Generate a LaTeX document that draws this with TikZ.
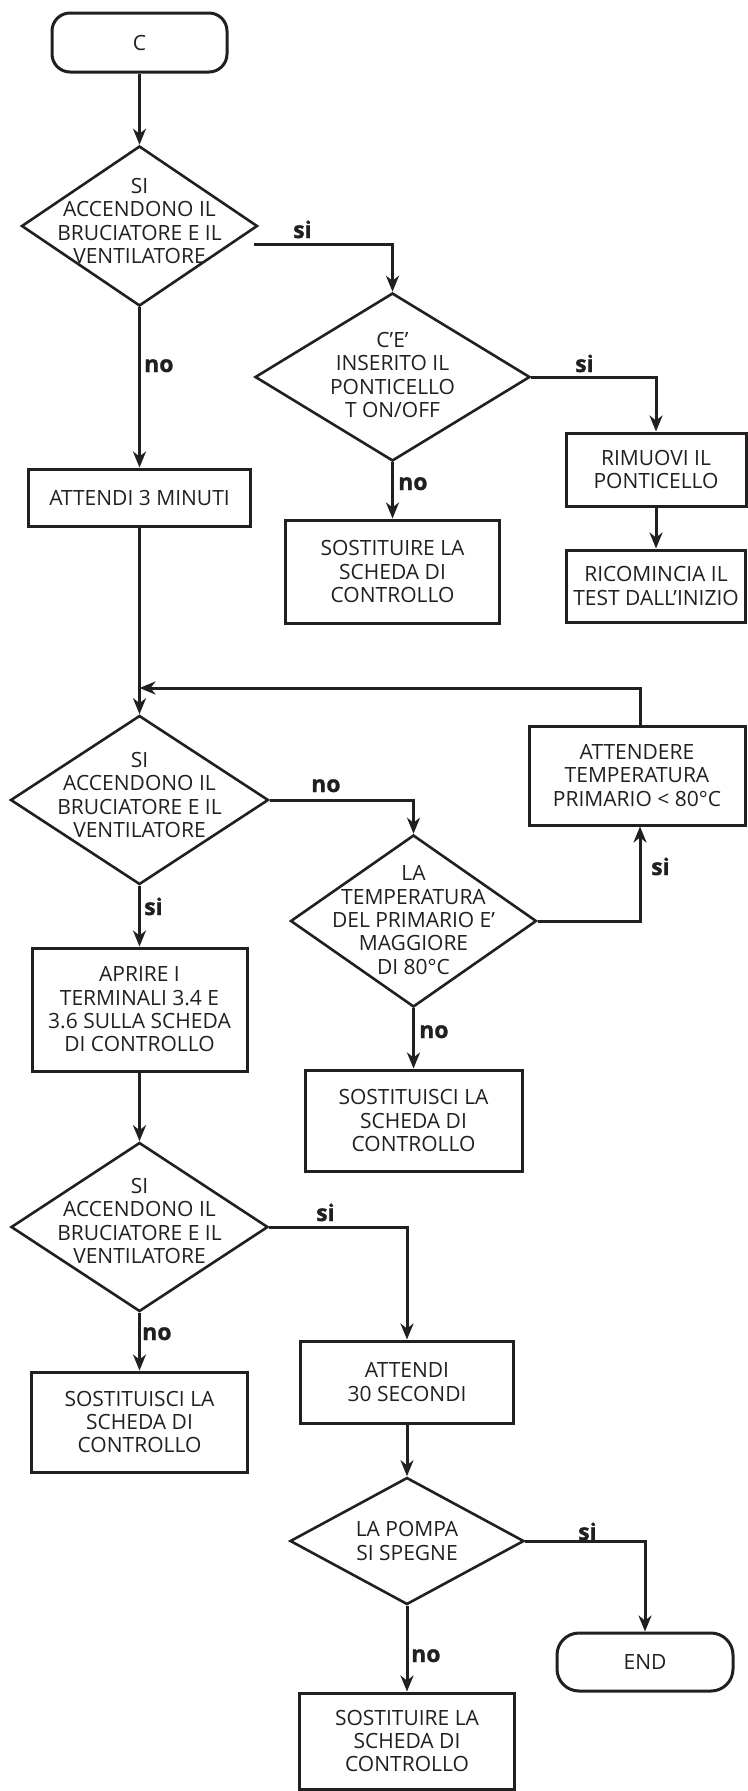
\documentclass[tikz,border=0pt]{standalone}
\usepackage{fontspec}
\setmainfont{Open Sans}
\newfontfamily\labfont{Open Sans}[BoldFeatures={FakeBold=1.2}]
\usetikzlibrary{shapes.geometric,arrows.meta,calc}
\definecolor{ink}{HTML}{231F20}

\begin{document}
\begin{tikzpicture}[x=1pt,y=-1pt,
  every node/.style={text=ink, font=\fontsize{21}{23.3}\selectfont},
  box/.style={draw=ink, line width=3pt, rectangle, align=center, inner sep=0pt},
  term/.style={box, rounded corners=18pt},
  dec/.style={draw=ink, line width=2.6pt, diamond, inner sep=0pt},
  txt/.style={align=center, inner sep=0pt},
  lab/.style={font=\labfont\fontsize{23}{24}\bfseries\selectfont, inner sep=0pt, anchor=base west},
  arr/.style={draw=ink, line width=3pt, -{Stealth[length=16pt,width=13pt,inset=5pt]}},
]
\useasboundingbox (0,0) rectangle (747,1791);

% ---- top section ----
\node[term, minimum width=175pt, minimum height=59pt] (start) at (139.5,42.5) {C};

\node[dec, minimum width=236pt, minimum height=160pt] (d1) at (139.5,226) {};
\node[txt] (d1t) at (139.5,221) {SI\\ACCENDONO IL\\BRUCIATORE E IL\\VENTILATORE};

\node[dec, minimum width=275pt, minimum height=168pt] (d2) at (392.5,377) {};
\node[txt] (d2t) at (392.5,375) {C’E’\\INSERITO IL\\PONTICELLO\\T ON/OFF};

\node[box, minimum width=180pt, minimum height=73pt] (rim) at (656,469.5) {RIMUOVI IL\\PONTICELLO};
\node[box, minimum width=179pt, minimum height=72pt] (ric) at (656,586) {RICOMINCIA IL\\TEST DALL’INIZIO};
\node[box, minimum width=214pt, minimum height=103pt] (sost1) at (392.5,571.5) {SOSTITUIRE LA\\SCHEDA DI\\CONTROLLO};
\node[box, minimum width=222pt, minimum height=57pt] (att3) at (139.5,497.5) {ATTENDI 3 MINUTI};

% ---- middle section ----
\coordinate (merge) at (139.5,688);
\node[dec, minimum width=258pt, minimum height=169pt] (d3) at (139.5,800) {};
\node[txt] (d3t) at (139.5,795) {SI\\ACCENDONO IL\\BRUCIATORE E IL\\VENTILATORE};

\node[box, minimum width=216pt, minimum height=99pt] (attr) at (637,775.5) {ATTENDERE\\TEMPERATURA\\PRIMARIO < 80°C};

\node[dec, minimum width=246pt, minimum height=172pt] (d4) at (413.5,921) {};
\node[txt] (d4t) at (413.5,920) {LA\\TEMPERATURA\\DEL PRIMARIO E’\\MAGGIORE\\DI 80°C};

\node[box, minimum width=215pt, minimum height=123pt] (apr) at (139.5,1009.5) {APRIRE I\\TERMINALI 3.4 E\\3.6 SULLA SCHEDA\\DI CONTROLLO};
\node[box, minimum width=217pt, minimum height=101pt] (sost2) at (413.5,1120.5) {SOSTITUISCI LA\\SCHEDA DI\\CONTROLLO};

% ---- bottom section ----
\node[dec, minimum width=257pt, minimum height=169pt] (d5) at (139.5,1227) {};
\node[txt] (d5t) at (139.5,1221) {SI\\ACCENDONO IL\\BRUCIATORE E IL\\VENTILATORE};

\node[box, minimum width=213pt, minimum height=82pt] (a30) at (407,1382) {ATTENDI\\30 SECONDI};
\node[box, minimum width=216pt, minimum height=100pt] (sost3) at (139.5,1422) {SOSTITUISCI LA\\SCHEDA DI\\CONTROLLO};

\node[dec, minimum width=234pt, minimum height=127pt] (d6) at (407,1541) {};
\node[txt] (d6t) at (407,1541) {LA POMPA\\SI SPEGNE};

\node[term, rounded corners=22pt, minimum width=176pt, minimum height=58pt] (end) at (645,1662) {END};
\node[box, minimum width=215pt, minimum height=96pt] (sost4) at (407,1741) {SOSTITUIRE LA\\SCHEDA DI\\CONTROLLO};

% ---- connectors ----
\coordinate (d1o) at ($(d1.east)+(-5,18)$);
\draw[arr] (start.south) -- (d1.north);
\draw[arr] (d1o) -| (d2.north);
\draw[arr] (d1.south) -- (att3.north);
\draw[arr] (d2.east) -| (rim.north);
\draw[arr] (d2.south) -- (sost1.north);
\draw[arr] (rim.south) -- (ric.north);
\draw[arr] (att3.south) -- (d3.north);
\draw[arr] ([xshift=3pt]attr.north) |- (merge);
\draw[arr] (d3.east) -| (d4.north);
\draw[arr] (d3.south) -- (apr.north);
\draw[arr] (d4.east) -| ([xshift=3pt]attr.south);
\draw[arr] (d4.south) -- (sost2.north);
\draw[arr] (apr.south) -- (d5.north);
\draw[arr] (d5.east) -| (a30.north);
\draw[arr] (d5.south) -- (sost3.north);
\draw[arr] (a30.south) -- (d6.north);
\draw[arr] (d6.east) -| (end.north);
\draw[arr] (d6.south) -- (sost4.north);

% ---- branch labels ----
\node[lab] (l1) at (293,238) {si};
\node[lab] (l2) at (144,372) {no};
\node[lab] (l3) at (575,372) {si};
\node[lab] (l4) at (398,490) {no};
\node[lab] (l5) at (311,792) {no};
\node[lab] (l6) at (144,915) {si};
\node[lab] (l7) at (651,875) {si};
\node[lab] (l8) at (419,1038) {no};
\node[lab] (l9) at (316,1221) {si};
\node[lab] (l10) at (142,1340) {no};
\node[lab] (l11) at (578,1540) {si};
\node[lab] (l12) at (411,1662) {no};
\end{tikzpicture}
\end{document}
